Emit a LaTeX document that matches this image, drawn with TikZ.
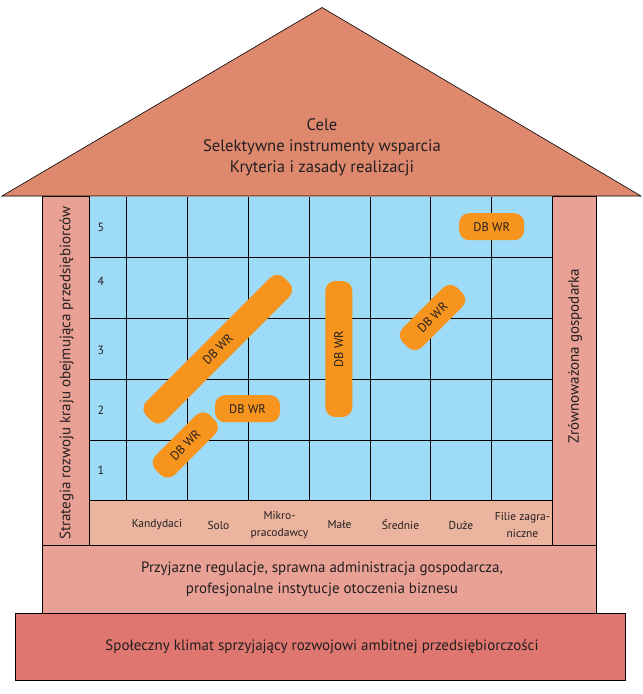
\documentclass[tikz,border=0pt]{standalone}
\usepackage{fontspec}
\setmainfont{PT Sans}
\definecolor{roofc}{RGB}{222,137,110}
\definecolor{pillarc}{RGB}{233,161,150}
\definecolor{bandc}{RGB}{235,180,159}
\definecolor{basec}{RGB}{223,118,112}
\definecolor{gridc}{RGB}{157,219,246}
\definecolor{orangec}{RGB}{247,148,30}
\definecolor{textc}{RGB}{35,31,32}
\tikzset{
  box/.style={draw=black, line width=0.8pt},
  gline/.style={draw=black, line width=0.8pt},
  pill/.style={fill=orangec, rounded corners=10pt, minimum height=27pt, inner sep=0pt},
  pilltxt/.style={text=textc, inner sep=0pt, font=\fontsize{12.5}{14}\selectfont},
  bigtxt/.style={text=textc, align=center, font=\fontsize{16.6}{21}\selectfont, inner sep=0pt},
  midtxt/.style={text=textc, align=center, font=\fontsize{15}{21}\selectfont, inner sep=0pt},
  axtxt/.style={text=textc, align=center, font=\fontsize{11.5}{16.5}\selectfont, inner sep=0pt},
  numtxt/.style={text=textc, font=\fontsize{12}{14}\selectfont, inner sep=0pt}
}
\begin{document}
\begin{tikzpicture}[x=1pt,y=-1pt]
\useasboundingbox (0,0) rectangle (643,694);
% grid area
\fill[gridc] (89.3,196.7) rectangle (552.3,500);
\foreach \yy in {257.3,318.3,379.3,440.7}
  \draw[gline] (89.3,\yy) -- (552.3,\yy);
\foreach \xx in {126.7,187.7,248.3,309.3,370.3,430.3,491.7}
  \draw[gline] (\xx,196.7) -- (\xx,500);
% label band
\draw[box, fill=bandc] (89.3,500) rectangle (552.3,545);
% pillars
\draw[box, fill=pillarc] (42.7,196.7) rectangle (89.3,545);
\draw[box, fill=pillarc] (552.3,196.7) rectangle (596.5,545);
% foundations
\draw[box, fill=pillarc] (42.7,545) rectangle (596.5,613);
\draw[box, fill=basec] (15.6,613) rectangle (625.5,680);
% roof
\draw[line width=0.6pt, fill=roofc] (2,196) -- (322,7.5) -- (641,196) -- cycle;

% roof text
\node[bigtxt] (roof) at (322,147) {Cele\\Selektywne instrumenty wsparcia\\Kryteria i zasady realizacji};
% pillar texts
\node[midtxt, rotate=90] (left) at (66.5,373) {Strategia rozwoju kraju obejmująca przedsiębiorców};
\node[midtxt, rotate=90] (right) at (575,356) {Zrównoważona gospodarka};
% foundation texts
\node[midtxt] (found1) at (322,579) {Przyjazne regulacje, sprawna administracja gospodarcza,\\profesjonalne instytucje otoczenia biznesu};
\node[midtxt] (found2) at (322,647) {Społeczny klimat sprzyjający rozwojowi ambitnej przedsiębiorczości};

% row numbers
\node[numtxt] (n5) at (101,227.5) {5};
\node[numtxt] (n4) at (101,281.5) {4};
\node[numtxt] (n3) at (101,350) {3};
\node[numtxt] (n2) at (101,410.5) {2};
\node[numtxt] (n1) at (101,470.5) {1};

% column labels
\node[axtxt] (c1) at (157,525) {Kandydaci};
\node[axtxt] (c2) at (218.5,525) {Solo};
\node[axtxt] (c3) at (279.5,525) {Mikro-\\pracodawcy};
\node[axtxt] (c4) at (339.5,525) {Małe};
\node[axtxt] (c5) at (400.5,525) {Średnie};
\node[axtxt] (c6) at (461,525) {Duże};
\node[axtxt] (c7) at (522.5,525) {Filie zagra-\\niczne};

% DB WR pills (shapes)
\node[pill, minimum width=65pt] (p1) at (491.7,226.7) {};
\node[pill, minimum width=65pt] (p2) at (247.5,408.7) {};
\node[pill, minimum width=136pt, rotate=90] (p3) at (338.8,349) {};
\node[pill, minimum width=77pt, rotate=45] (p4) at (432.5,317.5) {};
\node[pill, minimum width=77pt, rotate=45] (p5) at (185.3,445) {};
\node[pill, minimum width=195pt, rotate=45] (p6) at (217.8,349.2) {};
% DB WR labels
\node[pilltxt] (t1) at (p1.center) {DB WR};
\node[pilltxt] (t2) at (p2.center) {DB WR};
\node[pilltxt, rotate=90] (t3) at (p3.center) {DB WR};
\node[pilltxt, rotate=45] (t4) at (p4.center) {DB WR};
\node[pilltxt, rotate=45] (t5) at (p5.center) {DB WR};
\node[pilltxt, rotate=45] (t6) at (p6.center) {DB WR};
\end{tikzpicture}
\end{document}
